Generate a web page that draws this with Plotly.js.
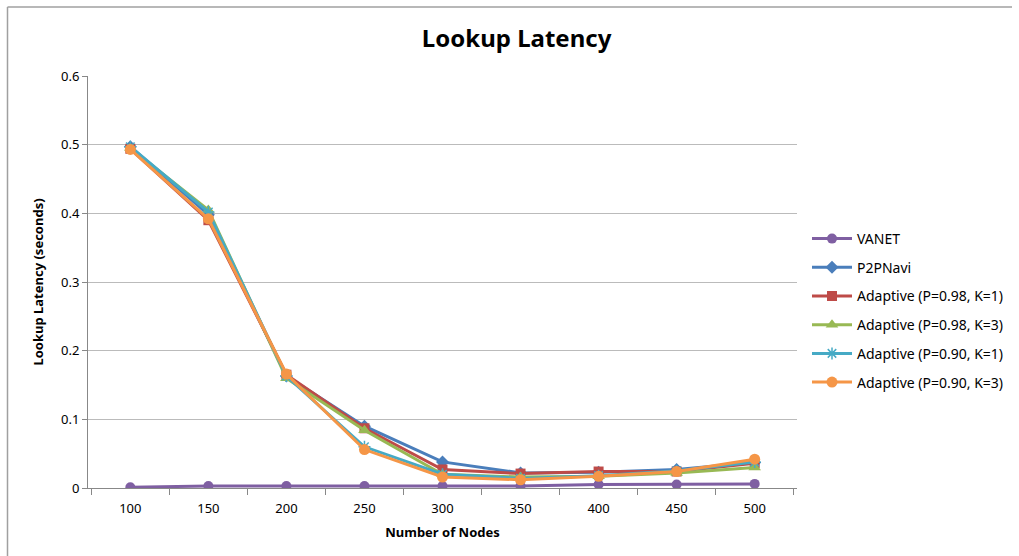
<!DOCTYPE html>
<html>
<head>
<meta charset="utf-8">
<script src="https://cdn.plot.ly/plotly-3.0.1.min.js"></script>
<style>html,body{margin:0;padding:0;background:#fff;overflow:hidden;}#chart{width:1019px;height:556px;}</style>
</head>
<body>
<div id="chart"></div>
<script>
const nodes = ["100","150","200","250","300","350","400","450","500"];
const vanet = [0.001,0.003,0.003,0.003,0.003,0.003,0.005,0.005,0.006];
const p2pnavi = [0.497,0.398,0.163,0.090,0.038,0.022,0.023,0.027,0.037];
const adaptive98k1 = [0.494,0.390,0.165,0.087,0.027,0.021,0.024,0.024,0.036];
const adaptive98k3 = [0.495,0.405,0.160,0.084,0.020,0.016,0.017,0.022,0.030];
const adaptive90k1 = [0.497,0.402,0.163,0.060,0.020,0.014,0.018,0.025,0.038];
const adaptive90k3 = [0.493,0.392,0.166,0.056,0.016,0.012,0.017,0.024,0.042];

const seriesNames = ["VANET","P2PNavi","Adaptive (P=0.98, K=1)","Adaptive (P=0.98, K=3)","Adaptive (P=0.90, K=1)","Adaptive (P=0.90, K=3)"];
const seriesData = [vanet,p2pnavi,adaptive98k1,adaptive98k3,adaptive90k1,adaptive90k3];
const colors = ["#7F5FA2","#4A7EBB","#BE4B48","#98B954","#46AAC5","#F59647"];
const symbols = ["circle","diamond","square","triangle-up","asterisk-open","circle"];
const sizes = [10,10,10,11,10,11];

const FONT = "Noto Sans, sans-serif";
const traces = seriesData.map((d,i)=>({
  x: nodes, y: d, name: seriesNames[i], type:'scatter', mode:'lines+markers',
  legendgroup: 'g'+i,
  line:{color:colors[i], width:3},
  marker:{symbol:symbols[i], size:sizes[i], color:colors[i], line:{color:colors[i], width: symbols[i]==='asterisk-open'?1.5:0}}
}));

const PW = 709, PH = 412;
const layout = {
  width:1019, height:556,
  margin:{l:88, r:222, t:76, b:68, autoexpand:false},
  paper_bgcolor:'#fff', plot_bgcolor:'#fff',
  font:{family:FONT, color:'#000'},
  title:{text:'<b>Lookup Latency</b>', font:{size:24, family:FONT, color:'#000'}, x:0.507, xref:'container', xanchor:'center', y:0.93, yref:'container', yanchor:'middle'},
  showlegend:true,
  legend:{x:(807-88)/PW, xanchor:'left', y:(488-223)/PH, yanchor:'top', font:{size:14, family:FONT, color:'#000'}, traceorder:'grouped', tracegroupgap:7.5, itemwidth:40, bgcolor:'rgba(0,0,0,0)'},
  xaxis:{type:'category', tickson:'boundaries', ticks:'outside', ticklen:6, tickcolor:'#888', showline:true, linecolor:'#888', linewidth:1, showgrid:false, zeroline:false,
    tickfont:{size:13, color:'#000'}, ticklabelstandoff:8,
    title:{text:'<b>Number of Nodes</b>', font:{size:13, color:'#000'}, standoff:12}},
  yaxis:{range:[0,0.6], dtick:0.1, tick0:0, ticks:'outside', ticklen:5, tickcolor:'#888', showline:true, linecolor:'#888', linewidth:1,
    showgrid:true, gridcolor:'#BBBBBB', gridwidth:1, zeroline:false, tickfont:{size:13, color:'#000'},
    title:{text:'<b>Lookup Latency (seconds)</b>', font:{size:13, color:'#000'}, standoff:14}},
  shapes:[
    {type:'line', xref:'paper', yref:'paper', x0:(7.5-88)/PW, x1:(7.5-88)/PW, y0:(488-7)/PH, y1:(488-556)/PH, line:{color:'#A0A0A0', width:1.5}},
    {type:'line', xref:'paper', yref:'paper', x0:(7.5-88)/PW, x1:(1012-88)/PW, y0:(488-7)/PH, y1:(488-7)/PH, line:{color:'#A0A0A0', width:1.5}}
  ]
};
Plotly.newPlot('chart', traces, layout, {displayModeBar:false, staticPlot:true});
</script>
</body>
</html>
